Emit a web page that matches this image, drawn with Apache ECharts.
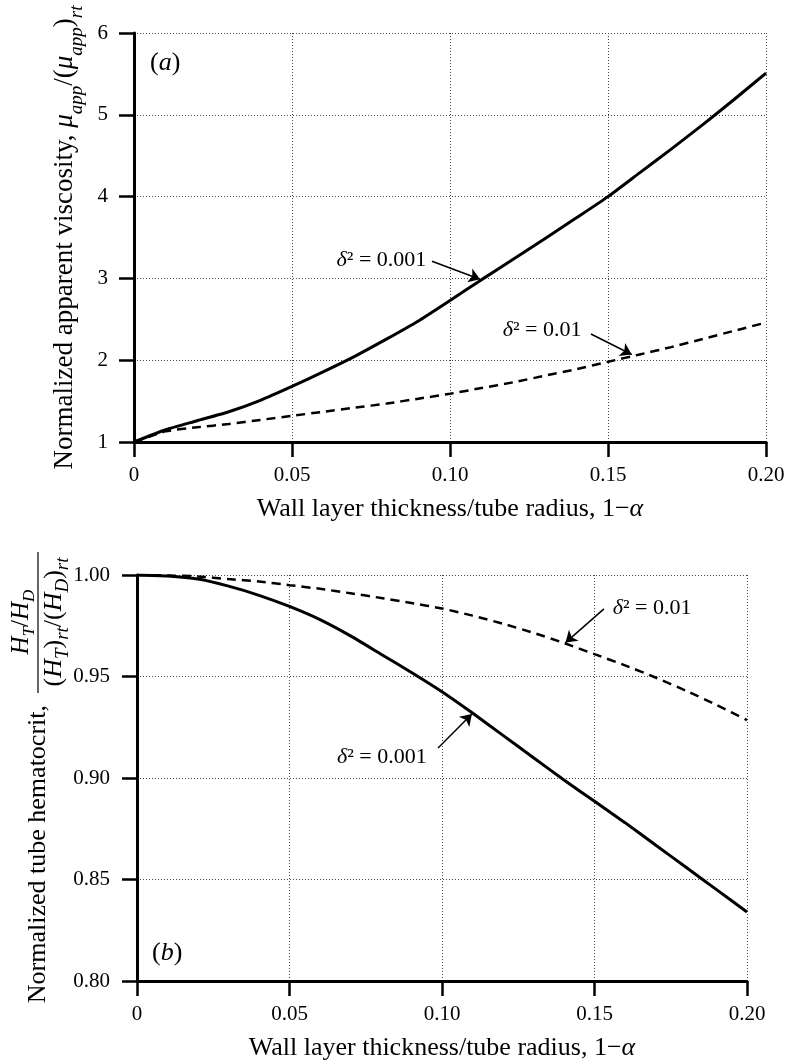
<!DOCTYPE html>
<html><head><meta charset="utf-8">
<script src="https://cdn.jsdelivr.net/npm/echarts@6/dist/echarts.min.js"></script>
<style>html,body{margin:0;padding:0;background:#fff}#c{width:786px;height:1060px}</style>
</head><body><div id="c"></div>
<script>
// ---- data ----
const xValues = [0,0.01,0.02,0.03,0.04,0.05,0.06,0.07,0.08,0.09,0.10,0.11,0.12,0.13,0.14,0.15,0.16,0.17,0.18,0.19,0.20];
const viscositySolid = [1.00,1.15,1.26,1.37,1.51,1.68,1.86,2.05,2.26,2.48,2.73,2.985,3.235,3.485,3.74,4.00,4.29,4.58,4.88,5.19,5.51]; // δ²=0.001
const viscosityDashed = [1.00,1.13,1.18,1.22,1.27,1.32,1.37,1.42,1.47,1.53,1.59,1.66,1.73,1.81,1.89,1.98,2.07,2.16,2.26,2.36,2.46]; // δ²=0.01
const hematocritSolid = [1.000,0.9995,0.998,0.9945,0.990,0.9845,0.978,0.970,0.961,0.952,0.9425,0.932,0.921,0.910,0.899,0.8885,0.878,0.867,0.856,0.845,0.834]; // δ²=0.001
const hematocritDashed = [1.000,0.9998,0.9993,0.998,0.9968,0.995,0.9932,0.991,0.9887,0.9862,0.9835,0.980,0.976,0.9715,0.9665,0.961,0.9555,0.9495,0.943,0.936,0.9285]; // δ²=0.01
const xTickLabels = ['0','0.05','0.10','0.15','0.20'];
const viscosityTickLabels = ['1','2','3','4','5','6'];
const hematocritTickLabels = ['0.80','0.85','0.90','0.95','1.00'];
const labelSolid = 'δ² = 0.001';
const labelDashed = 'δ² = 0.01';
// annotation anchors in data units: [text anchor, arrow start, arrow tip]
const annViscSolid = [[0.0925,3.22],[0.0943,3.21],[0.1095,2.99]];
const annViscDashed = [[0.1416,2.37],[0.1446,2.32],[0.1575,2.07]];
const annHctDashed = [[0.1560,0.9837],[0.1531,0.9833],[0.1405,0.9667]];
const annHctSolid = [[0.0950,0.9103],[0.0987,0.9148],[0.1098,0.9315]];

const FONT = '"Liberation Serif","Times New Roman",serif';
const pairs = ys => xValues.map((x,i)=>[x, ys[i]]);

function xAxisCfg(gi){
  return {
    gridIndex:gi, type:'value', min:0, max:0.2, interval:0.05,
    axisLine:{show:true,onZero:false,lineStyle:{color:'#000',width:3}},
    axisTick:{show:true,length:15,lineStyle:{color:'#000',width:2.5}},
    axisLabel:{margin:23,fontSize:21,fontFamily:FONT,color:'#000',
      formatter:v=>xTickLabels[Math.round(v/0.05)]},
    splitLine:{show:true,lineStyle:{color:'#444',type:[1,2],width:1}},
    name:'{t|Wall layer thickness/tube radius, 1−}{i|α}',
    nameLocation:'middle', nameGap:54,
    nameTextStyle:{fontFamily:FONT,fontSize:26,color:'#000',
      rich:{t:{fontFamily:FONT,fontSize:26,color:'#000'},i:{fontFamily:FONT,fontSize:26,fontStyle:'italic',color:'#000'}}}
  };
}
const sub = {fontFamily:FONT,fontSize:19,fontStyle:'italic',color:'#000',lineHeight:19,verticalAlign:'top',padding:[16,0,0,0]};
const main = {fontFamily:FONT,fontSize:27,color:'#000',lineHeight:31,verticalAlign:'top'};

function annot(a, text, pos){
  return {
    markLine:{silent:true,animation:false,symbol:['none','arrow'],symbolSize:11,
      lineStyle:{color:'#000',width:1.5,type:'solid'},label:{show:false},
      data:[[{coord:a[1]},{coord:a[2]}]]},
    markPoint:{silent:true,animation:false,symbol:'circle',symbolSize:0,
      data:[{coord:a[0],label:{show:true,position:pos,distance:0,
        formatter:'{i|δ}{n|'+text.slice(1)+'}',
        rich:{i:{fontFamily:FONT,fontSize:22,fontStyle:'italic',color:'#000'},
              n:{fontFamily:FONT,fontSize:22,color:'#000'}}}}]}
  };
}

const chart = echarts.init(document.getElementById('c'));
chart.setOption({
  animation:false,
  backgroundColor:'#fff',
  grid:[{left:134,top:33,width:632,height:409,outerBoundsMode:'none'},
        {left:137,top:575,width:610,height:406,outerBoundsMode:'none'}],
  xAxis:[xAxisCfg(0), xAxisCfg(1)],
  yAxis:[
    {gridIndex:0,type:'value',min:1,max:6,interval:1,
     axisLine:{show:true,onZero:false,lineStyle:{color:'#000',width:3}},
     axisTick:{show:true,length:15,lineStyle:{color:'#000',width:2.5}},
     axisLabel:{margin:26,fontSize:21,fontFamily:FONT,color:'#000',
       formatter:v=>viscosityTickLabels[Math.round(v-1)]},
     splitLine:{show:true,lineStyle:{color:'#444',type:[1,2],width:1}},
     name:'{t|Normalized apparent viscosity, }{i|μ}{s|app}{t|/(}{i|μ}{s|app}{t|)}{s|rt}',
     nameLocation:'middle',nameRotate:90,nameGap:49,
     nameTextStyle:{fontFamily:FONT,fontSize:27,color:'#000',
       rich:{t:main,i:Object.assign({},main,{fontStyle:'italic'}),s:sub}}},
    {gridIndex:1,type:'value',min:0.8,max:1.0,interval:0.05,
     axisLine:{show:true,onZero:false,lineStyle:{color:'#000',width:3}},
     axisTick:{show:true,length:15,lineStyle:{color:'#000',width:2.5}},
     axisLabel:{margin:27,fontSize:21,fontFamily:FONT,color:'#000',
       formatter:v=>hematocritTickLabels[Math.round((v-0.8)/0.05)]},
     splitLine:{show:true,lineStyle:{color:'#444',type:[1,2],width:1}}}
  ],
  graphic:[
    {type:'text',left:150,top:50,style:{text:'{n|(}{i|a}{n|)}',
      rich:{n:{fontFamily:FONT,fontSize:26,fill:'#000'},i:{fontFamily:FONT,fontSize:26,fontStyle:'italic',fill:'#000'}}}},
    {type:'text',left:152,top:940,style:{text:'{n|(}{i|b}{n|)}',
      rich:{n:{fontFamily:FONT,fontSize:26,fill:'#000'},i:{fontFamily:FONT,fontSize:26,fontStyle:'italic',fill:'#000'}}}},
    {type:'group',x:38,y:781,rotation:Math.PI/2,children:[
      {type:'text',x:76,y:0,style:{text:'Normalized tube hematocrit,',font:'26px '+FONT,fill:'#000',textAlign:'right',textVerticalAlign:'middle'}},
      {type:'text',x:159,y:-16,style:{text:'{h|H}{s|T}{n|/}{h|H}{s|D}',textAlign:'center',textVerticalAlign:'middle',
        rich:{h:{fontFamily:FONT,fontSize:25,fontStyle:'italic',fill:'#000',lineHeight:26,verticalAlign:'top'},
              n:{fontFamily:FONT,fontSize:25,fill:'#000',lineHeight:26,verticalAlign:'top'},
              s:{fontFamily:FONT,fontSize:17,fontStyle:'italic',fill:'#000',lineHeight:17,verticalAlign:'top',padding:[12,0,0,0]}}}},
      {type:'line',shape:{x1:88,y1:0,x2:229,y2:0},style:{stroke:'#000',lineWidth:1.2}},
      {type:'text',x:159,y:17,style:{text:'{n|(}{h|H}{s|T}{n|)}{s|rt}{n|/(}{h|H}{s|D}{n|)}{s|rt}',textAlign:'center',textVerticalAlign:'middle',
        rich:{h:{fontFamily:FONT,fontSize:26,fontStyle:'italic',fill:'#000',lineHeight:27,verticalAlign:'top'},
              n:{fontFamily:FONT,fontSize:26,fill:'#000',lineHeight:27,verticalAlign:'top'},
              s:{fontFamily:FONT,fontSize:19,fontStyle:'italic',fill:'#000',lineHeight:19,verticalAlign:'top',padding:[12,0,0,0]}}}}
    ]}
  ],
  series:[
    Object.assign({type:'line',xAxisIndex:0,yAxisIndex:0,data:pairs(viscosityDashed),symbol:'none',smooth:0.2,z:2,
      lineStyle:{color:'#000',width:2.5,type:[9,6]}}, annot(annViscDashed,labelDashed,'left')),
    Object.assign({type:'line',xAxisIndex:0,yAxisIndex:0,data:pairs(viscositySolid),symbol:'none',smooth:0.2,z:3,
      lineStyle:{color:'#000',width:3}}, annot(annViscSolid,labelSolid,'left')),
    Object.assign({type:'line',xAxisIndex:1,yAxisIndex:1,data:pairs(hematocritDashed),symbol:'none',smooth:0.2,z:2,
      lineStyle:{color:'#000',width:2.5,type:[9,6]}}, annot(annHctDashed,labelDashed,'right')),
    Object.assign({type:'line',xAxisIndex:1,yAxisIndex:1,data:pairs(hematocritSolid),symbol:'none',smooth:0.2,z:3,
      lineStyle:{color:'#000',width:3}}, annot(annHctSolid,labelSolid,'left'))
  ]
});
</script></body></html>
